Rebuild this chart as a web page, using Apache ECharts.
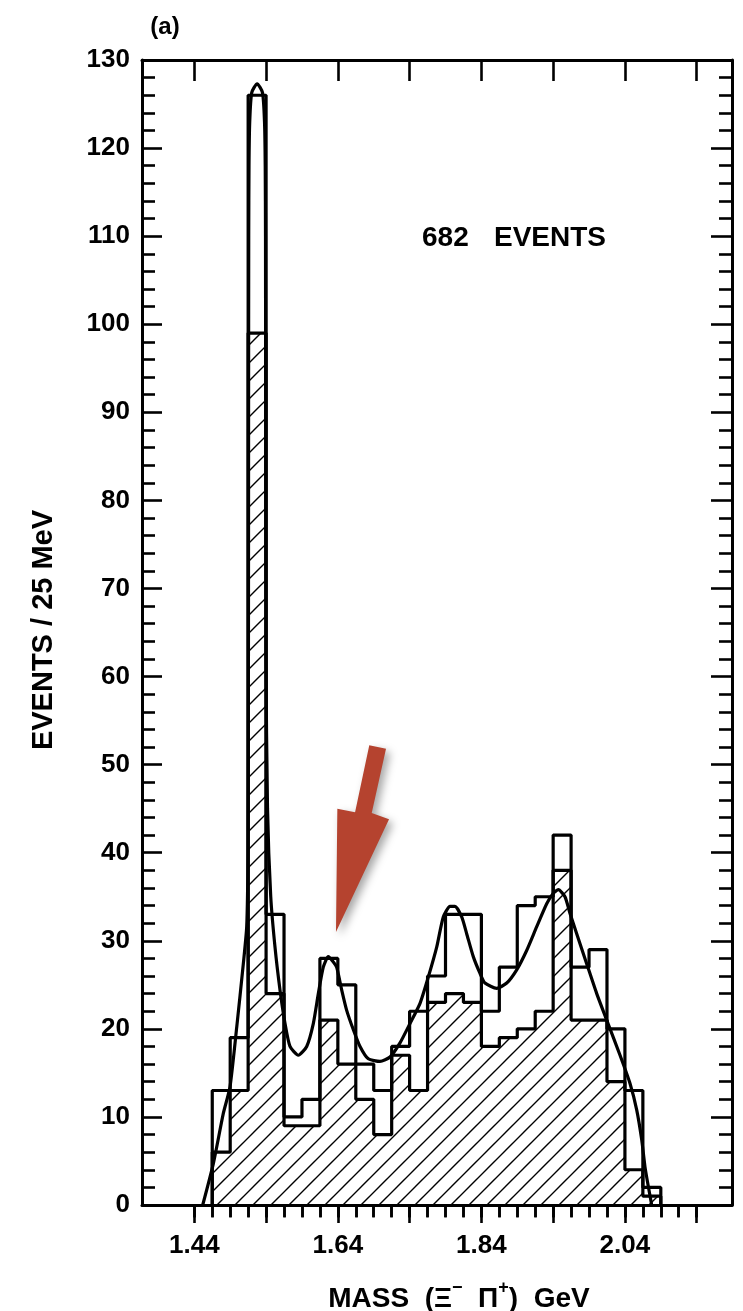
<!DOCTYPE html>
<html><head><meta charset="utf-8">
<script src="https://cdn.jsdelivr.net/npm/echarts@6/dist/echarts.min.js"></script>
<style>html,body{margin:0;padding:0;background:#fff}#c{width:743px;height:1311px}</style>
</head><body><div id="c"></div>
<script>
// ---- data ----
const BIN_EDGES = [1.465,1.49,1.515,1.54,1.565,1.59,1.615,1.64,1.665,1.69,1.715,1.74,1.765,1.79,1.815,1.84,1.865,1.89,1.915,1.94,1.965,1.99,2.015,2.04,2.065,2.09];
const TOTAL   = [13,19,126,33,10,12,28,25,16,13,18,22,26,33,33,22,27,34,35,42,27,29,20,13,2];
const HATCHED = [ 6,13, 99,24, 9, 9,21,16,12, 8,17,13,23,24,23,18,19,20,22,38,21,21,14, 4,1];
const CURVE_X = [1.4517,1.4665,1.4804,1.4897,1.4991,1.5083,1.5130,1.5148,1.5154,1.5156,1.5158,1.5162,1.5172,1.5200,1.5275,1.5350,1.5378,1.5388,1.5392,1.5394,1.5398,1.5420,1.5465,1.5524,1.5594,1.5664,1.5733,1.5849,1.5966,1.6058,1.6128,1.6197,1.6267,1.6337,1.6384,1.6454,1.6523,1.6616,1.6709,1.6824,1.6987,1.7127,1.7266,1.7405,1.7545,1.7661,1.7778,1.7869,1.7963,1.8032,1.8126,1.8195,1.8287,1.8381,1.8450,1.8613,1.8753,1.8892,1.9031,1.9171,1.9310,1.9402,1.9472,1.9565,1.9635,1.9728,1.9867,2.0007,2.0146,2.0332,2.0471,2.0564,2.0634,2.0680,2.0726,2.0773];
const CURVE_Y = [0,4.7,10.4,13.4,20.2,27.4,31.6,40,60,90,110,118,123,126.3,127.3,126.3,123,118,110,90,62,45,35,29.3,24.4,20.6,18.0,17.0,18.0,20.6,24.0,27.0,28.2,27.6,27.0,24.4,22.1,19.9,18.0,16.6,16.3,16.8,18.4,20.6,22.9,25.9,29.3,32.7,33.9,33.9,32.7,30.8,28.2,26.3,25.2,24.6,25.2,26.7,28.9,31.6,34.2,35.4,35.8,35.0,33.1,30.8,27.4,24.0,21.0,17.0,13.8,10.8,7.4,4.3,2.1,0];
const ARROW_X = [1.6838,1.7071,1.6872,1.7113,1.6374,1.6393,1.6640];
const ARROW_Y = [52.2,51.8,44.5,43.8,31.0,45.0,44.6];
const X_MAJOR_TICKS = [1.44,1.54,1.64,1.74,1.84,1.94,2.04,2.14];
const X_MINOR_TICKS = [1.44,1.465,1.49,1.515,1.54,1.565,1.59,1.615,1.64,1.665,1.69,1.715,1.74,1.765,1.79,1.815,1.84,1.865,1.89,1.915,1.94,1.965,1.99,2.015,2.04,2.065,2.09,2.115,2.14];
const X_TICK_LABELS = [1.44,1.64,1.84,2.04];
const X_MIN = 1.3671, X_MAX = 2.1892, Y_MIN = 0, Y_MAX = 130, Y_STEP = 10;

// ---- helpers ----
function stepData(vals){
  const d=[[BIN_EDGES[0],0]];
  vals.forEach((v,i)=>d.push([BIN_EDGES[i],v]));
  d.push([BIN_EDGES[vals.length],vals[vals.length-1]]);
  d.push([BIN_EDGES[vals.length],0]);
  return d;
}
function hatchPattern(){
  const s=18,c=document.createElement('canvas');c.width=s;c.height=s;
  const g=c.getContext('2d');g.strokeStyle='#000';g.lineWidth=1.4;g.lineCap='square';
  g.beginPath();g.moveTo(0,s);g.lineTo(s,0);
  g.moveTo(-2,2);g.lineTo(2,-2);g.moveTo(s-2,s+2);g.lineTo(s+2,s-2);g.stroke();
  return {image:c,repeat:'repeat'};
}
const FONT='"Liberation Sans", Arial, sans-serif';
const K='#000';
const chart=echarts.init(document.getElementById('c'),null,{renderer:'canvas'});
const xBase={type:'value',min:X_MIN,max:X_MAX,splitLine:{show:false},axisLabel:{show:false},axisTick:{show:false},axisLine:{show:false}};
const yBase={type:'value',min:Y_MIN,max:Y_MAX,interval:Y_STEP,splitLine:{show:false},minorSplitLine:{show:false}};
chart.setOption({
  animation:false,
  backgroundColor:'#fff',
  grid:{left:142,right:11,top:60,bottom:106,containLabel:false,outerBoundsMode:'none'},
  xAxis:[
    Object.assign({},xBase,{position:'bottom',
      axisLine:{show:true,onZero:false,lineStyle:{color:K,width:3}},
      axisTick:{show:true,inside:false,length:18,customValues:X_MAJOR_TICKS,lineStyle:{color:K,width:2.6}},
      axisLabel:{show:true,customValues:X_TICK_LABELS,formatter:v=>Number(v).toFixed(2),margin:28,
        fontFamily:FONT,fontWeight:'bold',fontSize:26,color:K}}),
    Object.assign({},xBase,{position:'bottom',
      axisTick:{show:true,inside:false,length:12,customValues:X_MINOR_TICKS,lineStyle:{color:K,width:2.6}}}),
    Object.assign({},xBase,{position:'top',
      axisLine:{show:true,onZero:false,lineStyle:{color:K,width:3}},
      axisTick:{show:true,inside:true,length:21,customValues:X_MAJOR_TICKS,lineStyle:{color:K,width:2.6}}}),
    Object.assign({},xBase,{position:'top',
      axisTick:{show:true,inside:true,length:12.5,customValues:X_MINOR_TICKS,lineStyle:{color:K,width:2.6}}})
  ],
  yAxis:[
    Object.assign({},yBase,{position:'left',
      axisLine:{show:true,onZero:false,lineStyle:{color:K,width:3}},
      axisTick:{show:true,inside:true,length:20,lineStyle:{color:K,width:2.6}},
      minorTick:{show:true,splitNumber:5,length:13,lineStyle:{color:K,width:2.6}},
      axisLabel:{show:true,margin:12,fontFamily:FONT,fontWeight:'bold',fontSize:26,color:K}}),
    Object.assign({},yBase,{position:'right',
      axisLine:{show:true,onZero:false,lineStyle:{color:K,width:3}},
      axisTick:{show:true,inside:true,length:21,lineStyle:{color:K,width:2.6}},
      minorTick:{show:true,splitNumber:5,length:13,lineStyle:{color:K,width:2.6}},
      axisLabel:{show:false}})
  ],
  series:[
    {type:'line',name:'subset',step:'end',data:stepData(HATCHED),symbol:'none',
      lineStyle:{color:K,width:3.2},areaStyle:{color:hatchPattern(),opacity:1},z:2},
    {type:'line',name:'all',step:'end',data:stepData(TOTAL),symbol:'none',
      lineStyle:{color:K,width:3.2},z:3},
    {type:'line',name:'fit',data:CURVE_X.map((x,i)=>[x,CURVE_Y[i]]),symbol:'none',smooth:0.2,
      lineStyle:{color:K,width:3.2},z:4},
    {type:'custom',name:'arrow',data:[[ARROW_X[4],ARROW_Y[4]]],z:5,
      renderItem:(p,api)=>({type:'polygon',
        shape:{points:ARROW_X.map((x,i)=>api.coord([x,ARROW_Y[i]]))},
        style:{fill:'#b5432f',shadowBlur:8,shadowOffsetX:4,shadowOffsetY:4,shadowColor:'rgba(0,0,0,0.35)'}})}
  ],
  graphic:[
    {type:'text',x:165,y:27,style:{text:'(a)',font:'bold 24px '+FONT,fill:K,align:'center',verticalAlign:'middle'}},
    {type:'text',x:422,y:238,style:{text:'682',font:'bold 28px '+FONT,fill:K,align:'left',verticalAlign:'middle'}},
    {type:'text',x:494,y:238,style:{text:'EVENTS',font:'bold 28px '+FONT,fill:K,align:'left',verticalAlign:'middle'}},
    {type:'text',x:44,y:630,rotation:Math.PI/2,style:{text:'EVENTS / 25 MeV',font:'bold 29px '+FONT,fill:K,align:'center',verticalAlign:'middle'}},
    {type:'text',x:459,y:1296,style:{text:'{n|MASS  (Ξ}{s|−}{n|  Π}{s|+}{n|)  GeV}',align:'center',verticalAlign:'middle',
      rich:{n:{font:'bold 28px '+FONT,fill:K,lineHeight:34,verticalAlign:'bottom'},
            s:{font:'bold 18px '+FONT,fill:K,lineHeight:34,verticalAlign:'top'}}}}
  ]
});
</script></body></html>
